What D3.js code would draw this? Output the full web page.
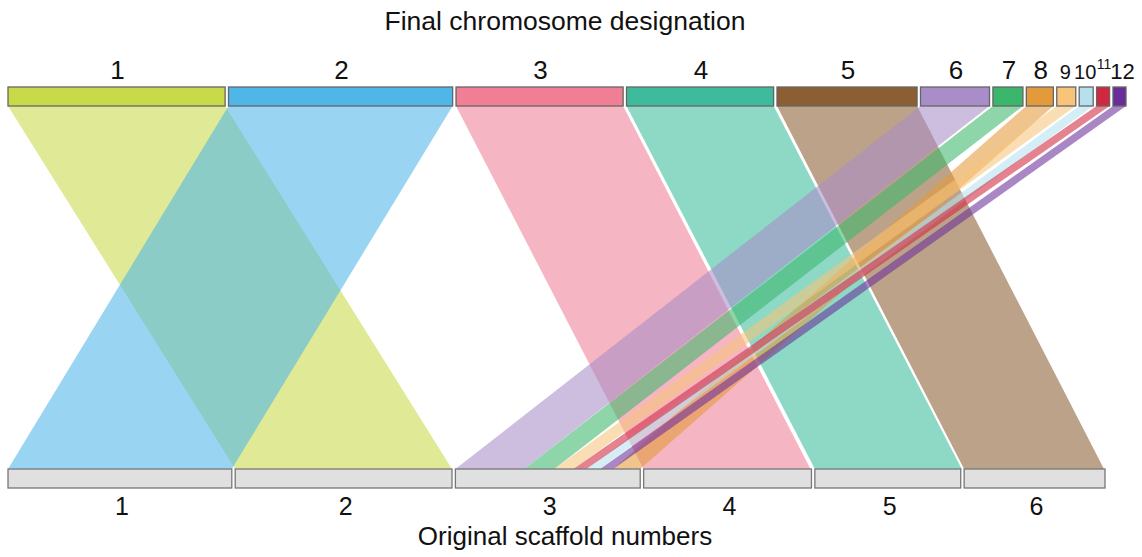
<!DOCTYPE html>
<html><head><meta charset="utf-8">
<script src="https://cdn.jsdelivr.net/npm/d3@7"></script>
<style>html,body{margin:0;padding:0;background:#fff;}svg{display:block;}</style>
</head><body>
<svg id="chart" width="1142" height="557"></svg>
<script>
// ---- data ----
const chromosomes = ["1","2","3","4","5","6","7","8","9","10","11","12"];
const chromosomeLengths = [217,224,167,147,140,69,30,27,19,14,13,13];
const chromosomeColors = ["#c8d94a","#4fb6e8","#f07f96","#3dbb9c","#8b5e34","#a98dc8","#3cb66c","#e39a3a","#f7c47a","#b7e0ee","#d2283f","#6a2e9a"];
const scaffolds = ["1","2","3","4","5","6"];
const scaffoldLengths = [224,217,185,168,146,141];
// scaffold of origin for each final chromosome
const chromosomeScaffold = ["2","1","4","5","6","3","3","3","3","3","3","3"];
// order of chromosome pieces inside each scaffold
const scaffoldContents = {"1":["2"],"2":["1"],"3":["6","7","9","11","10","12","8"],"4":["3"],"5":["4"],"6":["5"]};
const titleTop = "Final chromosome designation";
const titleBottom = "Original scaffold numbers";

// ---- layout ----
const gapUnits = 3.4;
const svg = d3.select("#chart");
const font = "'Liberation Sans', Arial, Helvetica, sans-serif";
const topY = 87, barH = 19, botY = 469;

function layout(names, lengths) {
  let pos = 0; const out = {};
  names.forEach((n,i)=>{ out[n] = {start: pos, end: pos + lengths[i]}; pos += lengths[i] + gapUnits; });
  return {pos: out, total: pos - gapUnits};
}
const topL = layout(chromosomes, chromosomeLengths);
const botL = layout(scaffolds, scaffoldLengths);
const xTop = d3.scaleLinear().domain([0, topL.total]).range([8, 1126]);
const xBot = d3.scaleLinear().domain([0, botL.total]).range([8, 1105]);

// piece positions inside scaffolds
const piecePos = {};
scaffolds.forEach(s=>{
  let p = botL.pos[s].start;
  scaffoldContents[s].forEach(c=>{
    const len = chromosomeLengths[chromosomes.indexOf(c)];
    piecePos[c] = {start: p, end: p + len}; p += len;
  });
});

// ribbons
const ribbons = chromosomes.map((c,i)=>({c, color: chromosomeColors[i], top: topL.pos[c], bot: piecePos[c]}));
const y0 = topY + barH, y1 = botY;
svg.append("g").selectAll("path").data(ribbons).join("path")
  .attr("d", d=>{
    const p = d3.path();
    p.moveTo(xTop(d.top.start), y0);
    p.lineTo(xTop(d.top.end), y0);
    p.lineTo(xBot(d.bot.end), y1);
    p.lineTo(xBot(d.bot.start), y1);
    p.closePath();
    return p.toString();
  })
  .attr("fill", d=>d.color).attr("fill-opacity", 0.58);

// top bars
svg.append("g").selectAll("rect").data(chromosomes).join("rect")
  .attr("x", c=>xTop(topL.pos[c].start)).attr("y", topY)
  .attr("width", c=>xTop(topL.pos[c].end)-xTop(topL.pos[c].start)).attr("height", barH)
  .attr("fill", (c,i)=>chromosomeColors[i]).attr("stroke", "#666").attr("stroke-width", 1.3);

// bottom bars
svg.append("g").selectAll("rect").data(scaffolds).join("rect")
  .attr("x", s=>xBot(botL.pos[s].start)).attr("y", botY)
  .attr("width", s=>xBot(botL.pos[s].end)-xBot(botL.pos[s].start)).attr("height", barH)
  .attr("fill", "#e0e0e0").attr("stroke", "#777").attr("stroke-width", 1.3);

// top labels
const labelStyle = {"9":{size:20,dy:0,dx:-1},"10":{size:20,dy:0,dx:-1},"11":{size:14,dy:-10,dx:1},"12":{size:22,dy:0,dx:3}};
svg.append("g").selectAll("text").data(chromosomes).join("text")
  .attr("x", c=>(xTop(topL.pos[c].start)+xTop(topL.pos[c].end))/2 + (labelStyle[c]?labelStyle[c].dx:1))
  .attr("y", c=>79 + (labelStyle[c]?labelStyle[c].dy:0))
  .attr("text-anchor","middle").attr("font-family", font)
  .attr("font-size", c=>labelStyle[c]?labelStyle[c].size:26).attr("fill","#111")
  .text(c=>c);

// bottom labels
svg.append("g").selectAll("text").data(scaffolds).join("text")
  .attr("x", s=>(xBot(botL.pos[s].start)+xBot(botL.pos[s].end))/2 + 2)
  .attr("y", 515).attr("text-anchor","middle").attr("font-family", font)
  .attr("font-size", 25).attr("fill","#111").text(s=>s);

svg.append("text").attr("x",565).attr("y",30).attr("text-anchor","middle")
  .attr("font-family",font).attr("font-size",26.5).attr("fill","#111").text(titleTop);
svg.append("text").attr("x",565).attr("y",545).attr("text-anchor","middle")
  .attr("font-family",font).attr("font-size",26).attr("fill","#111").text(titleBottom);
</script>
</body></html>
